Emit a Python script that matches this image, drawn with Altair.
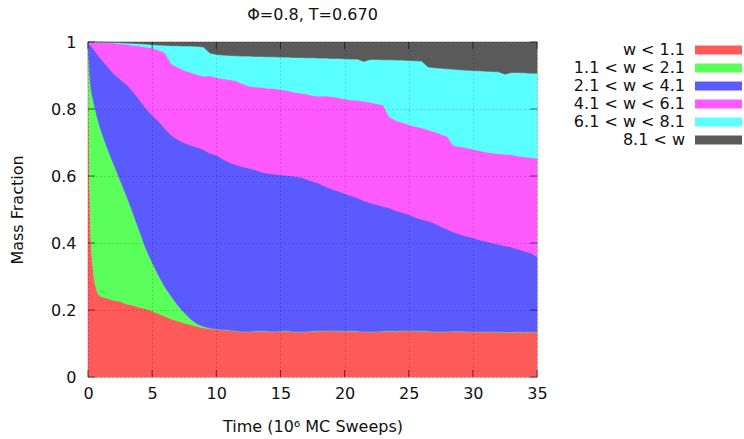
import altair as alt
import pandas as pd

# time axis (10^6 MC sweeps)
T = [0, 0.1, 0.2, 0.3, 0.5, 0.75, 1,
     1.5, 2, 2.5, 3, 3.5, 4, 4.5, 5, 5.5, 6,
     6.5, 7, 7.5, 8, 8.5, 9, 9.5, 10, 10.5, 11,
     11.5, 12, 12.5, 13, 13.5, 14, 14.5, 15, 15.5, 16,
     16.5, 17, 17.5, 18, 18.5, 19, 19.5, 20, 20.5, 21,
     21.5, 22, 22.5, 23, 23.5, 24, 24.5, 25, 25.5, 26,
     26.5, 27, 27.5, 28, 28.5, 29, 29.5, 30, 30.5, 31,
     31.5, 32, 32.5, 33, 33.5, 34, 34.5, 35]

# cumulative upper edges of each band
EDGE_W1 = [1.0, 0.62, 0.43, 0.36, 0.285, 0.25, 0.24,
           0.235, 0.229, 0.226, 0.218, 0.214, 0.208, 0.204, 0.197, 0.189, 0.181,
           0.173, 0.167, 0.161, 0.156, 0.151, 0.147, 0.144, 0.142, 0.141, 0.139,
           0.137, 0.135, 0.135, 0.136, 0.137, 0.136, 0.135, 0.136, 0.137, 0.135,
           0.134, 0.135, 0.136, 0.137, 0.137, 0.138, 0.137, 0.136, 0.137, 0.136,
           0.135, 0.134, 0.135, 0.136, 0.137, 0.136, 0.137, 0.138, 0.137, 0.137,
           0.136, 0.135, 0.134, 0.135, 0.136, 0.136, 0.135, 0.135, 0.134, 0.134,
           0.135, 0.134, 0.133, 0.133, 0.134, 0.133, 0.134, 0.134]

EDGE_W2 = [1.0, 0.92, 0.87, 0.845, 0.81, 0.77, 0.737,
           0.683, 0.636, 0.588, 0.541, 0.49, 0.437, 0.384, 0.342, 0.303, 0.268,
           0.24, 0.214, 0.192, 0.173, 0.159, 0.151, 0.146, 0.143, 0.142, 0.14,
           0.138, 0.136, 0.136, 0.137, 0.138, 0.137, 0.136, 0.137, 0.138, 0.136,
           0.135, 0.136, 0.137, 0.138, 0.138, 0.139, 0.138, 0.137, 0.138, 0.137,
           0.136, 0.135, 0.136, 0.137, 0.138, 0.137, 0.138, 0.139, 0.138, 0.138,
           0.137, 0.136, 0.135, 0.136, 0.137, 0.137, 0.136, 0.136, 0.135, 0.135,
           0.136, 0.135, 0.134, 0.134, 0.135, 0.134, 0.135, 0.135]

EDGE_W4 = [1.0, 0.995, 0.99, 0.985, 0.975, 0.962, 0.95,
           0.928, 0.906, 0.889, 0.874, 0.852, 0.828, 0.803, 0.781, 0.764, 0.741,
           0.722, 0.709, 0.699, 0.692, 0.686, 0.679, 0.668, 0.663, 0.651, 0.641,
           0.634, 0.628, 0.624, 0.619, 0.612, 0.608, 0.606, 0.603, 0.602, 0.6,
           0.597, 0.591, 0.584, 0.578, 0.569, 0.561, 0.555, 0.548, 0.542, 0.535,
           0.526, 0.52, 0.515, 0.509, 0.505, 0.497, 0.491, 0.485, 0.477, 0.471,
           0.466, 0.459, 0.449, 0.441, 0.433, 0.426, 0.42, 0.416, 0.41, 0.405,
           0.4, 0.396, 0.392, 0.388, 0.382, 0.376, 0.37, 0.36]

EDGE_W6 = [1.0, 1.0, 1.0, 1.0, 0.999, 0.999, 0.999,
           0.998, 0.997, 0.995, 0.993, 0.99, 0.988, 0.985, 0.982, 0.976, 0.968,
           0.934, 0.925, 0.915, 0.909, 0.903, 0.898, 0.899, 0.894, 0.89, 0.888,
           0.884, 0.876, 0.869, 0.866, 0.865, 0.862, 0.861, 0.858, 0.856, 0.851,
           0.848, 0.845, 0.84, 0.838, 0.839, 0.837, 0.834, 0.83, 0.827, 0.826,
           0.823, 0.82, 0.816, 0.812, 0.776, 0.766, 0.76, 0.754, 0.748, 0.744,
           0.738, 0.732, 0.725, 0.718, 0.69, 0.688, 0.684, 0.68, 0.676, 0.672,
           0.669, 0.667, 0.665, 0.664, 0.66, 0.657, 0.655, 0.653]

EDGE_W8 = [1.0, 1.0, 1.0, 1.0, 1.0, 1.0, 1.0,
           0.999, 0.999, 0.998, 0.997, 0.996, 0.995, 0.994, 0.992, 0.991, 0.99,
           0.989, 0.989, 0.988, 0.988, 0.987, 0.985, 0.967, 0.963, 0.961, 0.96,
           0.959, 0.958, 0.958, 0.957, 0.957, 0.956, 0.956, 0.955, 0.955, 0.954,
           0.954, 0.953, 0.953, 0.952, 0.952, 0.951, 0.951, 0.95, 0.949, 0.949,
           0.942, 0.948, 0.948, 0.947, 0.947, 0.946, 0.946, 0.945, 0.944, 0.943,
           0.926, 0.923, 0.922, 0.92, 0.919, 0.917, 0.916, 0.915, 0.914, 0.913,
           0.912, 0.911, 0.904, 0.909, 0.909, 0.908, 0.907, 0.907]

EDGE_TOP = [1.0] * len(T)
EDGE_BOTTOM = [0.0] * len(T)

LABELS = ["w < 1.1", "1.1 < w < 2.1", "2.1 < w < 4.1",
          "4.1 < w < 6.1", "6.1 < w < 8.1", "8.1 < w"]
COLORS = ["#ff5a5a", "#5aff5a", "#5a5aff", "#ff5aff", "#5affff", "#5a5a5a"]
X_TICKS = [0, 5, 10, 15, 20, 25, 30, 35]
Y_TICKS = [0, 0.2, 0.4, 0.6, 0.8, 1]

FONT = "DejaVu Sans"
FS = 16
W, H = 449, 335

edges = [EDGE_BOTTOM, EDGE_W1, EDGE_W2, EDGE_W4, EDGE_W6, EDGE_W8, EDGE_TOP]
rows = []
for k, lab in enumerate(LABELS):
    for i, t in enumerate(T):
        rows.append({"t": t, "band": lab, "lo": edges[k][i], "hi": edges[k + 1][i]})
df = pd.DataFrame(rows)

color_scale = alt.Scale(domain=LABELS, range=COLORS)
xs = alt.Scale(domain=[0, 35], nice=False, zero=False)
ys = alt.Scale(domain=[0, 1], nice=False)

grid_kw = dict(grid=True, gridDash=[1, 3], gridColor="#000000", gridOpacity=0.3,
               ticks=False, domain=False, labelFont=FONT, titleFont=FONT,
               labelFontSize=FS, titleFontSize=FS, labelColor="#111",
               titleColor="#111", titleFontWeight="normal", labelFlush=False,
               zindex=1)
x_axis = alt.Axis(values=X_TICKS, title="Time (10⁶ MC Sweeps)",
                  labelPadding=8, titlePadding=17, **grid_kw)
y_axis = alt.Axis(values=Y_TICKS, title="Mass Fraction", format="~g",
                  labelPadding=12, titlePadding=25, **grid_kw)

x_enc = alt.X("t:Q", scale=xs, axis=x_axis)
y_enc = alt.Y("hi:Q", scale=ys, axis=y_axis)

areas = alt.Chart(df).mark_area(interpolate="linear", strokeWidth=0.6).encode(
    x=x_enc,
    y=y_enc,
    y2="lo:Q",
    color=alt.Color("band:N", scale=color_scale, legend=None),
    stroke=alt.Stroke("band:N", scale=color_scale, legend=None),
)

xt = pd.DataFrame({"t": X_TICKS})
yt = pd.DataFrame({"hi": Y_TICKS})
tick_style = dict(color="#000000", opacity=0.55, strokeWidth=1)
tb = alt.Chart(xt).mark_rule(**tick_style).encode(x=x_enc, y=alt.value(H), y2=alt.value(H - 7))
tt = alt.Chart(xt).mark_rule(**tick_style).encode(x=x_enc, y=alt.value(0), y2=alt.value(7))
tl = alt.Chart(yt).mark_rule(**tick_style).encode(y=y_enc, x=alt.value(0), x2=alt.value(7))
tr = alt.Chart(yt).mark_rule(**tick_style).encode(y=y_enc, x=alt.value(W), x2=alt.value(W - 7))

main = alt.layer(areas, tb, tt, tl, tr)

leg_df = pd.DataFrame({"band": LABELS})
leg_y = alt.Y("band:N", scale=alt.Scale(type="point", domain=LABELS, range=[8, 98], padding=0), axis=None)
leg_text = alt.Chart(leg_df).mark_text(align="right", baseline="middle", font=FONT,
                                       fontSize=FS, color="#111").encode(
    x=alt.value(597), y=leg_y, text="band:N")
leg_sw = alt.Chart(leg_df).mark_rule(strokeWidth=9, strokeCap="butt").encode(
    x=alt.value(607), x2=alt.value(654), y=leg_y,
    color=alt.Color("band:N", scale=color_scale, legend=None))
legend = alt.layer(leg_sw, leg_text)

chart = alt.layer(main, legend).resolve_scale(y="independent").properties(
    width=W, height=H,
    title=alt.TitleParams("Φ=0.8, T=0.670", font=FONT, fontSize=FS,
                          fontWeight="normal", color="#111", offset=11, anchor="middle"),
    padding={"left": 88, "top": 42, "right": 207, "bottom": 62},
    autosize=alt.AutoSizeParams(type="none"),
).configure_view(stroke="#404040", strokeWidth=1).configure(background="white")

chart.save("out.html", embed_options={"renderer": "svg", "actions": False})
